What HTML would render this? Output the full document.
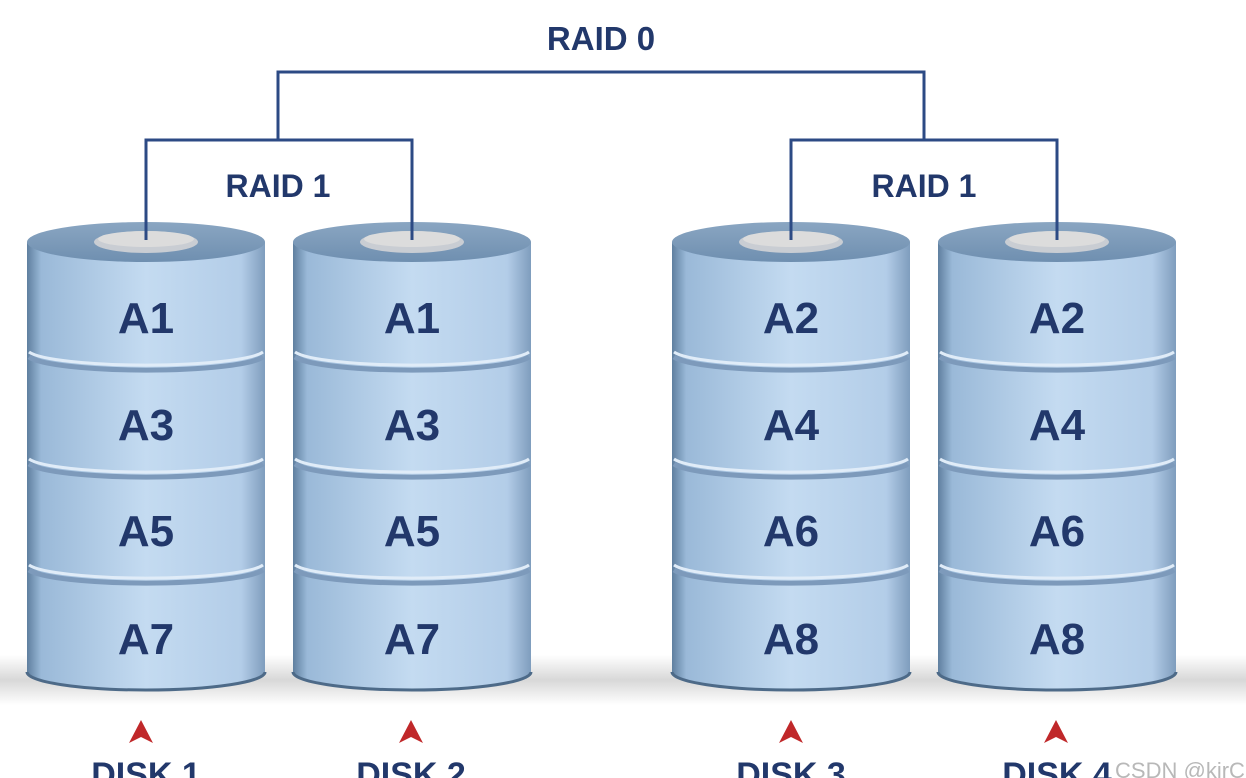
<!DOCTYPE html>
<html><head><meta charset="utf-8"><style>
html,body{margin:0;padding:0;background:#fff;width:1246px;height:778px;overflow:hidden}
svg text{font-family:"Liberation Sans",sans-serif;font-weight:bold;fill:#22386b}
</style></head><body>
<svg width="1246" height="778" viewBox="0 0 1246 778" xmlns="http://www.w3.org/2000/svg">
<defs>
<linearGradient id="body" x1="0" x2="1" y1="0" y2="0">
<stop offset="0" stop-color="#5f7f9f"/>
<stop offset="0.06" stop-color="#9ab9d8"/>
<stop offset="0.5" stop-color="#c4dbf1"/>
<stop offset="0.9" stop-color="#b3cde8"/>
<stop offset="1" stop-color="#7f9dbd"/>
</linearGradient>
<linearGradient id="top" x1="0" x2="0" y1="0" y2="1">
<stop offset="0" stop-color="#8aa6c2"/>
<stop offset="1" stop-color="#6f8fb0"/>
</linearGradient>
<linearGradient id="floor" x1="0" x2="0" y1="0" y2="1">
<stop offset="0" stop-color="#fff"/>
<stop offset="0.5" stop-color="#d8d8d8"/>
<stop offset="1" stop-color="#fff"/>
</linearGradient>
<g id="cyl">
<rect x="0" y="242" width="238" height="430" fill="url(#body)"/>
<ellipse cx="119" cy="672" rx="119" ry="18" fill="url(#body)"/>
<path d="M0 672 A119 18 0 0 0 238 672" fill="none" stroke="#4d6a88" stroke-width="3"/>
<path d="M2 352 A119 16 0 0 0 236 352" fill="none" stroke="#e0ecf8" stroke-width="3"/>
<path d="M2 357 A119 16 0 0 0 236 357" fill="none" stroke="#7d9abb" stroke-width="5"/>
<path d="M2 459 A119 16 0 0 0 236 459" fill="none" stroke="#e0ecf8" stroke-width="3"/>
<path d="M2 464 A119 16 0 0 0 236 464" fill="none" stroke="#7d9abb" stroke-width="5"/>
<path d="M2 565 A119 16 0 0 0 236 565" fill="none" stroke="#e0ecf8" stroke-width="3"/>
<path d="M2 570 A119 16 0 0 0 236 570" fill="none" stroke="#7d9abb" stroke-width="5"/>
<ellipse cx="119" cy="242" rx="119" ry="20" fill="url(#top)"/>
<ellipse cx="119" cy="242" rx="52" ry="11" fill="#c9cdd3"/>
<ellipse cx="119" cy="239" rx="48" ry="8" fill="#dcdcdc"/>
</g>
</defs>
<rect x="0" y="655" width="1246" height="50" fill="url(#floor)"/>
<use href="#cyl" x="27"/>
<use href="#cyl" x="293"/>
<use href="#cyl" x="672"/>
<use href="#cyl" x="938"/>
<g fill="none" stroke="#2c4a84" stroke-width="3">
<path d="M278 140 V72 H924 V140"/>
<path d="M146 240 V140 H412 V240"/>
<path d="M791 240 V140 H1057 V240"/>
</g>
<text x="601" y="50" font-size="33" text-anchor="middle">RAID 0</text>
<text x="278" y="197" font-size="32" text-anchor="middle">RAID 1</text>
<text x="924" y="197" font-size="32" text-anchor="middle">RAID 1</text>
<g font-size="44" text-anchor="middle">
<text x="146" y="333">A1</text><text x="146" y="440">A3</text><text x="146" y="546">A5</text><text x="146" y="654">A7</text>
<text x="412" y="333">A1</text><text x="412" y="440">A3</text><text x="412" y="546">A5</text><text x="412" y="654">A7</text>
<text x="791" y="333">A2</text><text x="791" y="440">A4</text><text x="791" y="546">A6</text><text x="791" y="654">A8</text>
<text x="1057" y="333">A2</text><text x="1057" y="440">A4</text><text x="1057" y="546">A6</text><text x="1057" y="654">A8</text>
</g>
<g fill="#c0282a">
<path d="M141 720 L129 743 L141 737 L153 743 Z"/>
<path d="M411 720 L399 743 L411 737 L423 743 Z"/>
<path d="M791 720 L779 743 L791 737 L803 743 Z"/>
<path d="M1056 720 L1044 743 L1056 737 L1068 743 Z"/>
</g>
<g font-size="34" text-anchor="middle">
<text x="146" y="786">DISK 1</text>
<text x="411" y="786">DISK 2</text>
<text x="791" y="786">DISK 3</text>
<text x="1057" y="786">DISK 4</text>
</g>
<text x="1180" y="778" font-size="22" text-anchor="middle" style="fill:#b8b8b8;font-weight:normal">CSDN @kirC</text>
</svg>
</body></html>
